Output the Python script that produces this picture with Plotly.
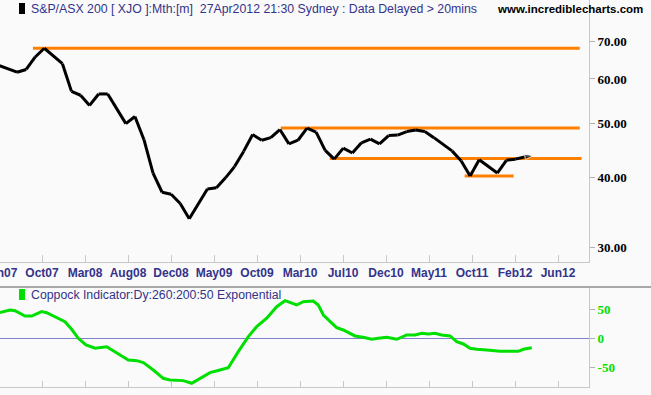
import math
import plotly.graph_objects as go

# ---------------- data ----------------
month_labels = ["May07", "Jun07", "Jul07", "Aug07", "Sep07", "Oct07", "Nov07", "Dec07",
                "Jan08", "Feb08", "Mar08", "Apr08", "May08", "Jun08", "Jul08", "Aug08",
                "Sep08", "Oct08", "Nov08", "Dec08", "Jan09", "Feb09", "Mar09", "Apr09",
                "May09", "Jun09", "Jul09", "Aug09", "Sep09", "Oct09", "Nov09", "Dec09",
                "Jan10", "Feb10", "Mar10", "Apr10", "May10", "Jun10", "Jul10", "Aug10",
                "Sep10", "Oct10", "Nov10", "Dec10", "Jan11", "Feb11", "Mar11", "Apr11",
                "May11", "Jun11", "Jul11", "Aug11", "Sep11", "Oct11", "Nov11", "Dec11",
                "Jan12", "Feb12", "Mar12", "Apr12"]
month_index = list(range(len(month_labels)))
xjo_close = [63.4, 62.5, 61.7, 62.4, 65.7, 68.1, 65.9, 63.9,
             57.0, 56.1, 53.8, 56.4, 56.4, 53.0, 49.9, 51.4,
             46.7, 40.7, 37.6, 37.3, 35.9, 33.7, 35.9, 38.1,
             38.3, 39.9, 41.8, 44.5, 47.7, 46.6, 47.1, 48.7,
             45.9, 46.6, 49.0, 48.2, 44.7, 43.1, 45.1, 44.2,
             46.1, 46.8, 45.9, 47.5, 47.6, 48.3, 48.6, 48.3,
             47.1, 45.9, 44.6, 42.8, 40.2, 43.0, 41.8, 40.7,
             42.9, 43.1, 43.5, 43.7]

# support / resistance lines: start month, end month, level
level_start = [3.75, 31.1, 36.5, 51.4]
level_end = [64.1, 64.1, 64.3, 56.8]
level_value = [68.1, 49.0, 43.2, 40.2]

# Coppock indicator (daily), x in months from May07
coppock_x = [0.0, 1.21, 1.77, 2.87, 3.61, 4.71, 5.26, 6.37, 7.28, 8.02, 8.75, 9.60,
             10.60, 11.89, 12.80, 14.27, 15.20, 15.93, 17.03, 18.13, 18.87, 20.34,
             21.27, 22.19, 23.29, 24.39, 25.31, 26.41, 27.52, 28.44, 29.55, 30.65,
             31.57, 32.86, 33.59, 34.69, 35.24, 35.80, 36.53, 37.27, 38.00, 38.74,
             39.29, 40.18, 41.14, 41.87, 42.80, 43.90, 45.00, 45.92, 46.66, 47.39,
             48.12, 48.86, 49.78, 50.52, 51.25, 51.99, 52.73, 53.83, 54.56, 55.30,
             57.32, 57.87, 58.80]
coppock_y = [44, 48.8, 47.6, 38.4, 38.4, 45.9, 44, 36.2, 28.6, 15.5, 0, -11.5,
             -17.2, -14.5, -23, -37.4, -38.6, -42, -54.7, -69, -71.9, -73,
             -77.6, -69, -59.3, -54.7, -50.7, -23, 2.8, 20, 34.5, 54.5,
             64.8, 57.4, 63.1, 64.3, 57.4, 40.2, 28.6, 18.3, 14.3, 8.6,
             4, 1.7, -1.7, 0, 1.7, -1.7, 5.7, 5.7, 8.6, 7.4,
             8.6, 5.7, 4, -5.7, -9.8, -17.2, -19, -20.2, -21.9, -22.4,
             -22.4, -19, -16.2]

x_tick_vals = [0.11, 4.746, 9.492, 14.238, 18.984, 23.73, 28.476, 33.222, 37.968,
               42.714, 47.46, 52.206, 56.952, 61.698]
x_tick_text = ["Jun07", "Oct07", "Mar08", "Aug08", "Dec08", "May09", "Oct09", "Mar10",
               "Jul10", "Dec10", "May11", "Oct11", "Feb12", "Jun12"]
price_ticks = [30, 40, 50, 60, 70]
price_tick_text = ["30.00", "40.00", "50.00", "60.00", "70.00"]
cop_ticks = [-50, 0, 50]
cop_tick_text = ["-50", "0", "50"]

# ---------------- figure ----------------
W, H = 651, 395
BG = "#FAFAFA"
NAVY = "#33338A"
GREEN = "#00E000"
ORANGE = "#FF8000"
AXIS = "#C8C8C8"

fig = go.Figure()

for s, e, v in zip(level_start, level_end, level_value):
    fig.add_trace(go.Scatter(x=[s, e], y=[v, v], mode="lines",
                             line=dict(color=ORANGE, width=3),
                             xaxis="x", yaxis="y", hoverinfo="skip"))

fig.add_trace(go.Scatter(x=month_index, y=xjo_close, mode="lines+markers",
                         line=dict(color="black", width=3),
                         marker=dict(symbol="arrow", angleref="previous", color="black",
                                     size=[0] * (len(xjo_close) - 1) + [9]),
                         text=month_labels, xaxis="x", yaxis="y"))

fig.add_trace(go.Scatter(x=coppock_x, y=coppock_y, mode="lines",
                         line=dict(color=GREEN, width=3),
                         xaxis="x2", yaxis="y2"))

xr = [0.11, 65.12]
top_dom = [1 - 262 / H, 1.0]
bot_dom = [1 - 387 / H, 1 - 288 / H]
xdom = [0, 589 / W]

fig.update_layout(
    width=W, height=H,
    margin=dict(l=0, r=0, t=0, b=0, autoexpand=False),
    paper_bgcolor=BG, plot_bgcolor=BG,
    showlegend=False,
    xaxis=dict(domain=xdom, range=xr, anchor="y", showgrid=False, zeroline=False,
               automargin=False,
               tickvals=x_tick_vals, ticktext=x_tick_text, ticklabeloverflow="allow",
               ticks="inside", ticklen=7, tickcolor=AXIS,
               showline=True, linecolor=AXIS, linewidth=1,
               tickfont=dict(family="Liberation Sans, Arial", size=12, color=NAVY,
                             weight="bold")),
    yaxis=dict(domain=top_dom, type="log", side="right", anchor="x", automargin=False,
               range=[math.log10(28.2), math.log10(83.1)],
               tickvals=price_ticks, ticktext=price_tick_text,
               ticks="outside", ticklen=5, tickcolor="#B0B0B0",
               showgrid=False, zeroline=False,
               showline=True, linecolor=AXIS, linewidth=1,
               tickfont=dict(family="Liberation Serif, Times New Roman", size=13,
                             color="black", weight="bold")),
    xaxis2=dict(domain=xdom, range=xr, anchor="y2", matches="x", showgrid=False,
                automargin=False,
                zeroline=False, tickvals=x_tick_vals, showticklabels=False,
                ticks="inside", ticklen=6, tickcolor=AXIS,
                showline=True, linecolor=AXIS, linewidth=1),
    yaxis2=dict(domain=bot_dom, side="right", anchor="x2", range=[-84, 86.7],
                automargin=False,
                tickvals=cop_ticks, ticktext=cop_tick_text,
                ticks="outside", ticklen=5, tickcolor="#B0B0B0",
                showgrid=False, zeroline=True, zerolinecolor="#8080C8", zerolinewidth=1,
                showline=True, linecolor=AXIS, linewidth=1,
                tickfont=dict(family="Liberation Serif, Times New Roman", size=13,
                              color=GREEN, weight="bold")),
)

# separator line under the date labels
fig.add_shape(type="line", xref="paper", yref="paper", x0=0, x1=1,
              y0=1 - 287 / H, y1=1 - 287 / H, line=dict(color="#A8A8A8", width=2))
# title and legend swatches
fig.add_shape(type="rect", xref="paper", yref="paper",
              x0=19 / W, x1=25 / W, y0=1 - 14 / H, y1=1 - 3 / H,
              fillcolor="black", line=dict(width=0))
fig.add_shape(type="rect", xref="paper", yref="paper",
              x0=19 / W, x1=25 / W, y0=1 - 300 / H, y1=1 - 289 / H,
              fillcolor=GREEN, line=dict(width=0))

fig.add_annotation(xref="paper", yref="paper", x=29 / W, y=1 - 8.5 / H,
                   xanchor="left", yanchor="middle", showarrow=False,
                   text="S&amp;P/ASX 200 [ XJO ]:Mth:[m]  27Apr2012 21:30 Sydney : Data Delayed &gt; 20mins",
                   font=dict(family="Liberation Sans, Arial", size=12.3, color=NAVY))
fig.add_annotation(xref="paper", yref="paper", x=495 / W, y=1 - 8.5 / H,
                   xanchor="left", yanchor="middle", showarrow=False,
                   text="<b>www.incrediblecharts.com</b>",
                   font=dict(family="Liberation Sans, Arial", size=11.5, color="black"))
fig.add_annotation(xref="paper", yref="paper", x=29 / W, y=1 - 295 / H,
                   xanchor="left", yanchor="middle", showarrow=False,
                   text="Coppock Indicator:Dy:260:200:50 Exponential",
                   font=dict(family="Liberation Sans, Arial", size=12.3, color=NAVY))

fig.write_html("out.html")
